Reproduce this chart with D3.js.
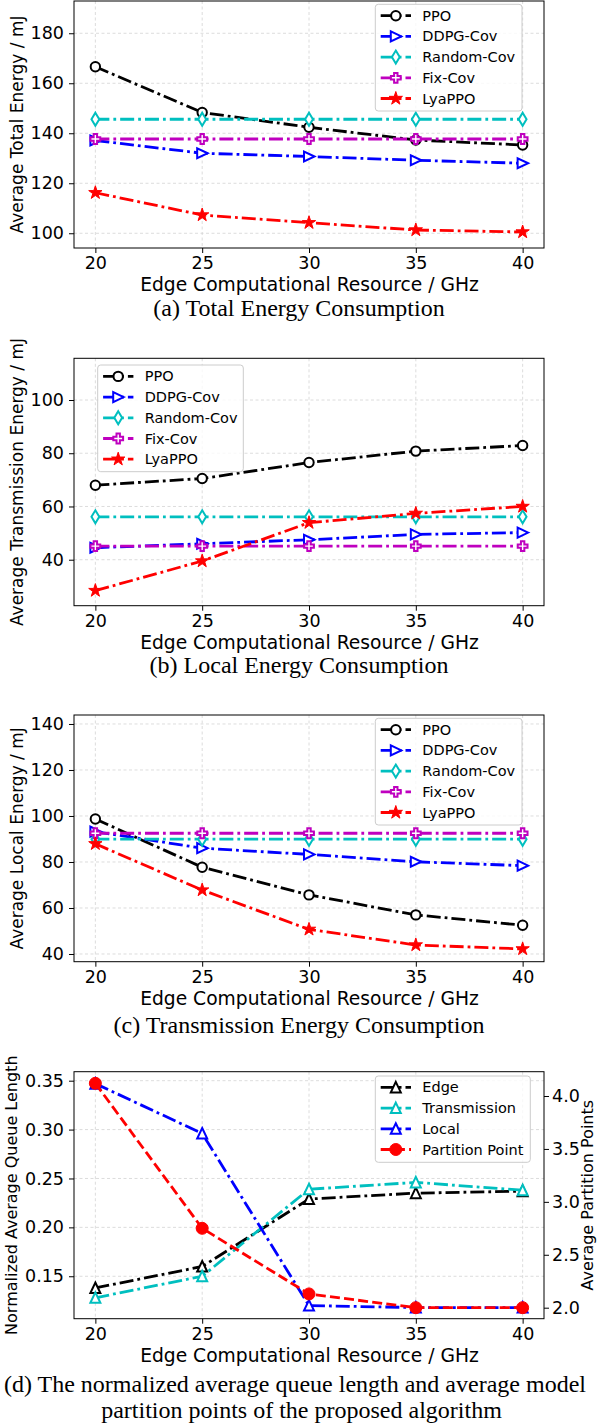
<!DOCTYPE html>
<html>
<head>
<meta charset="utf-8">
<script src="https://cdn.jsdelivr.net/npm/d3@7"></script>
<style>
  body { margin: 0; background: #fff; }
  svg { display: block; font-family: "DejaVu Sans", sans-serif; }
  .caption { font-family: "Liberation Serif", "Times New Roman", serif; }
</style>
</head>
<body>
<div id="chart-area"></div>
<script>
// x values shared by every panel
const X_VALUES = [20, 25, 30, 35, 40];
const X_TICKS = [20, 25, 30, 35, 40];

// (a) total energy
const TOTAL_PPO = [166.6, 148.3, 142.4, 137.3, 135.3];
const TOTAL_DDPG = [137.1, 132.0, 130.7, 129.2, 128.0];
const TOTAL_RANDOM = [145.6, 145.6, 145.6, 145.6, 145.6];
const TOTAL_FIX = [137.7, 137.7, 137.7, 137.7, 137.7];
const TOTAL_LYA = [116.2, 107.3, 104.2, 101.3, 100.5];
const TOTAL_TICKS = [100, 120, 140, 160, 180];

// (b) transmission energy
const TRANS_PPO = [68.0, 70.5, 76.5, 80.8, 82.9];
const TRANS_DDPG = [44.5, 46.0, 47.5, 49.5, 50.2];
const TRANS_RANDOM = [56.1, 56.1, 56.1, 56.1, 56.1];
const TRANS_FIX = [45.1, 45.1, 45.1, 45.1, 45.1];
const TRANS_LYA = [28.4, 39.5, 53.9, 57.4, 60.0];
const TRANS_TICKS = [40, 60, 80, 100];

// (c) local energy
const LOCAL_PPO = [98.7, 77.7, 65.7, 57.0, 52.5];
const LOCAL_DDPG = [93.2, 86.0, 83.3, 80.1, 78.4];
const LOCAL_RANDOM = [89.9, 89.9, 89.9, 89.9, 89.9];
const LOCAL_FIX = [92.5, 92.5, 92.5, 92.5, 92.5];
const LOCAL_LYA = [87.9, 67.8, 50.7, 43.9, 42.2];
const LOCAL_TICKS = [40, 60, 80, 100, 120, 140];

// (d) queue length + partition points
const QUEUE_EDGE = [0.138, 0.160, 0.229, 0.235, 0.237];
const QUEUE_TRANS = [0.128, 0.150, 0.239, 0.246, 0.238];
const QUEUE_LOCAL = [0.347, 0.296, 0.120, 0.118, 0.118];
const PARTITION = [4.12, 2.75, 2.13, 2.0, 2.0];
const QUEUE_TICKS = [0.15, 0.20, 0.25, 0.30, 0.35];
const PARTITION_TICKS = [2.0, 2.5, 3.0, 3.5, 4.0];

const DASHDOT = '14 4 2.8 4';
const DASHED = '10 4.2';
const LW = 2.8;

const LEFT = 74, RIGHT = 544;
const X_DOMAIN = [19, 41];

const markerPath = (type) => {
  switch (type) {
    case 'circle': return d3.symbol(d3.symbolCircle, Math.PI * 4.7 * 4.7)();
    case 'dot': return d3.symbol(d3.symbolCircle, Math.PI * 6 * 6)();
    case 'tri-right': return 'M5.5,0L-5,-5L-5,5Z';
    case 'tri-up': return 'M0,-5.5L5,5L-5,5Z';
    case 'thin-diamond': return 'M0,-6.5L3.9,0L0,6.5L-3.9,0Z';
    case 'plus': {
      const a = 4.9, b = 1.7;
      return `M${-b},${-a}H${b}V${-b}H${a}V${b}H${b}V${a}H${-b}V${b}H${-a}V${-b}H${-b}Z`;
    }
    case 'star': return d3.symbol(d3.symbolStar, 55)();
  }
};

const svg = d3.select('#chart-area')
  .append('svg')
  .attr('width', 598)
  .attr('height', 1427);

const methodSeries = (vals) => [
  { name: 'PPO', values: vals[0], color: '#000000', marker: 'circle', fill: '#fff', dash: DASHDOT, mw: 2 },
  { name: 'DDPG-Cov', values: vals[1], color: '#0000ff', marker: 'tri-right', fill: '#fff', dash: DASHDOT, mw: 2 },
  { name: 'Random-Cov', values: vals[2], color: '#00bfbf', marker: 'thin-diamond', fill: '#fff', dash: DASHDOT, mw: 2 },
  { name: 'Fix-Cov', values: vals[3], color: '#bf00bf', marker: 'plus', fill: '#fff', dash: DASHDOT, mw: 2 },
  { name: 'LyaPPO', values: vals[4], color: '#ff0000', marker: 'star', fill: '#ff0000', dash: DASHDOT, mw: 1 },
];

const PANELS = [
  {
    top: 1, bottom: 248, yDomain: [94.1, 192.9], yTicks: TOTAL_TICKS, yFormat: d3.format('d'),
    ylabel: 'Average Total Energy / mJ', ylabelSize: 17, ylabelX: 23,
    series: methodSeries([TOTAL_PPO, TOTAL_DDPG, TOTAL_RANDOM, TOTAL_FIX, TOTAL_LYA]),
    legend: { x: 375.3, y: 4.3, w: 146.7, h: 106.7 },
    caption: [{ text: '(a) Total Energy Consumption', x: 299, y: 316, anchor: 'middle' }],
  },
  {
    top: 358.3, bottom: 605.7, yDomain: [22.72, 115.67], yTicks: TRANS_TICKS, yFormat: d3.format('d'),
    ylabel: 'Average Transmission Energy / mJ', ylabelSize: 17, ylabelX: 23,
    series: methodSeries([TRANS_PPO, TRANS_DDPG, TRANS_RANDOM, TRANS_FIX, TRANS_LYA]),
    legend: { x: 97.7, y: 365, w: 145.6, h: 106.7 },
    caption: [{ text: '(b) Local Energy Consumption', x: 299, y: 673.3, anchor: 'middle' }],
  },
  {
    top: 715, bottom: 961.7, yDomain: [36.65, 143.9], yTicks: LOCAL_TICKS, yFormat: d3.format('d'),
    ylabel: 'Average Local Energy / mJ', ylabelSize: 17, ylabelX: 23,
    series: methodSeries([LOCAL_PPO, LOCAL_DDPG, LOCAL_RANDOM, LOCAL_FIX, LOCAL_LYA]),
    legend: { x: 375.3, y: 718.3, w: 146.7, h: 106.7 },
    caption: [{ text: '(c) Transmission Energy Consumption', x: 299, y: 1033, anchor: 'middle' }],
  },
  {
    top: 1071.7, bottom: 1318.7, yDomain: [0.1066, 0.3592], yTicks: QUEUE_TICKS, yFormat: d3.format('.2f'),
    ylabel: 'Normalized Average Queue Length', ylabelSize: 16, ylabelX: 17,
    yRight: { domain: [1.896, 4.2296], ticks: PARTITION_TICKS, format: d3.format('.1f'), label: 'Average Partition Points' },
    series: [
      { name: 'Edge', values: QUEUE_EDGE, color: '#000000', marker: 'tri-up', fill: '#fff', dash: DASHDOT, mw: 2 },
      { name: 'Transmission', values: QUEUE_TRANS, color: '#00bfbf', marker: 'tri-up', fill: '#fff', dash: DASHDOT, mw: 2 },
      { name: 'Local', values: QUEUE_LOCAL, color: '#0000ff', marker: 'tri-up', fill: '#fff', dash: DASHDOT, mw: 2 },
      { name: 'Partition Point', values: PARTITION, color: '#ff0000', marker: 'dot', fill: '#ff0000', dash: DASHED, mw: 1, right: true },
    ],
    legend: { x: 375.3, y: 1076, w: 155, h: 86.3 },
    caption: [
      { text: '(d) The normalized average queue length and average model', x: 4, y: 1391.7, anchor: 'start' },
      { text: 'partition points of the proposed algorithm', x: 301.5, y: 1418, anchor: 'middle' },
    ],
  },
];

const drawPanel = (p) => {
  const x = d3.scaleLinear().domain(X_DOMAIN).range([LEFT, RIGHT]);
  const y = d3.scaleLinear().domain(p.yDomain).range([p.bottom, p.top]);
  const y2 = p.yRight ? d3.scaleLinear().domain(p.yRight.domain).range([p.bottom, p.top]) : null;
  const g = svg.append('g');

  // grid
  const grid = g.append('g')
    .attr('stroke', '#d3d3d3')
    .attr('stroke-width', 0.8)
    .attr('stroke-dasharray', '3 2.5');
  grid.selectAll('.vx').data(X_TICKS).join('line')
    .attr('x1', (d) => x(d)).attr('x2', (d) => x(d))
    .attr('y1', p.top).attr('y2', p.bottom);
  grid.selectAll('.hy').data(p.yTicks).join('line')
    .attr('x1', LEFT).attr('x2', RIGHT)
    .attr('y1', (d) => y(d)).attr('y2', (d) => y(d));

  // axes
  const xAxis = g.append('g')
    .attr('transform', `translate(0,${p.bottom})`)
    .call(d3.axisBottom(x).tickValues(X_TICKS).tickSize(5).tickPadding(3.5).tickFormat(d3.format('d')));
  const yAxis = g.append('g')
    .attr('transform', `translate(${LEFT},0)`)
    .call(d3.axisLeft(y).tickValues(p.yTicks).tickSize(5).tickPadding(5).tickFormat(p.yFormat));
  [xAxis, yAxis].forEach((a) => {
    a.select('.domain').remove();
    a.selectAll('text').attr('font-size', 17.5).attr('fill', '#000').attr('font-family', '"DejaVu Sans", sans-serif');
    a.selectAll('line').attr('stroke', '#000').attr('stroke-width', 1);
  });
  if (y2) {
    const rAxis = g.append('g')
      .attr('transform', `translate(${RIGHT},0)`)
      .call(d3.axisRight(y2).tickValues(p.yRight.ticks).tickSize(5).tickPadding(3).tickFormat(p.yRight.format));
    rAxis.select('.domain').remove();
    rAxis.selectAll('text').attr('font-size', 17.5).attr('fill', '#000').attr('font-family', '"DejaVu Sans", sans-serif');
    rAxis.selectAll('line').attr('stroke', '#000');
    g.append('text')
      .attr('transform', `translate(593,${(p.top + p.bottom) / 2}) rotate(-90)`)
      .attr('text-anchor', 'middle')
      .attr('font-size', 16)
      .text(p.yRight.label);
  }

  // series
  p.series.forEach((s) => {
    const sy = s.right ? y2 : y;
    g.append('path')
      .datum(s.values)
      .attr('fill', 'none')
      .attr('stroke', s.color)
      .attr('stroke-width', LW)
      .attr('stroke-dasharray', s.dash)
      .attr('d', d3.line().x((d, i) => x(X_VALUES[i])).y((d) => sy(d)));
    g.append('g').selectAll('path').data(s.values).join('path')
      .attr('transform', (d, i) => `translate(${x(X_VALUES[i])},${sy(d)})`)
      .attr('d', markerPath(s.marker))
      .attr('fill', s.fill)
      .attr('stroke', s.color)
      .attr('stroke-width', s.mw);
  });

  // spines
  g.append('rect')
    .attr('x', LEFT).attr('y', p.top)
    .attr('width', RIGHT - LEFT).attr('height', p.bottom - p.top)
    .attr('fill', 'none').attr('stroke', '#000').attr('stroke-width', 1);

  // labels
  g.append('text')
    .attr('x', (LEFT + RIGHT) / 2 + 0.5)
    .attr('y', p.bottom + 43)
    .attr('text-anchor', 'middle')
    .attr('font-size', 18.7)
    .text('Edge Computational Resource / GHz');
  g.append('text')
    .attr('transform', `translate(${p.ylabelX},${(p.top + p.bottom) / 2}) rotate(-90)`)
    .attr('text-anchor', 'middle')
    .attr('font-size', p.ylabelSize)
    .text(p.ylabel);

  // legend
  const L = p.legend;
  const lg = g.append('g');
  lg.append('rect')
    .attr('x', L.x).attr('y', L.y).attr('width', L.w).attr('height', L.h)
    .attr('rx', 3)
    .attr('fill', '#fff').attr('fill-opacity', 0.8)
    .attr('stroke', '#cccccc').attr('stroke-width', 1);
  const rows = lg.selectAll('.row').data(p.series).join('g')
    .attr('transform', (d, i) => `translate(${L.x},${L.y + 11.4 + i * 20.7})`);
  rows.append('line')
    .attr('x1', 5.4).attr('x2', 35.7)
    .attr('stroke', (d) => d.color)
    .attr('stroke-width', LW)
    .attr('stroke-dasharray', (d) => d.dash);
  rows.append('path')
    .attr('transform', 'translate(20.5,0)')
    .attr('d', (d) => markerPath(d.marker))
    .attr('fill', (d) => d.fill)
    .attr('stroke', (d) => d.color)
    .attr('stroke-width', (d) => d.mw);
  rows.append('text')
    .attr('x', 47)
    .attr('dy', '0.35em')
    .attr('font-size', 14.5)
    .text((d) => d.name);

  // caption
  p.caption.forEach((c) => {
    g.append('text')
      .attr('class', 'caption')
      .attr('x', c.x).attr('y', c.y)
      .attr('text-anchor', c.anchor)
      .attr('font-size', 24)
      .text(c.text);
  });
};

PANELS.forEach(drawPanel);
</script>
</body>
</html>
